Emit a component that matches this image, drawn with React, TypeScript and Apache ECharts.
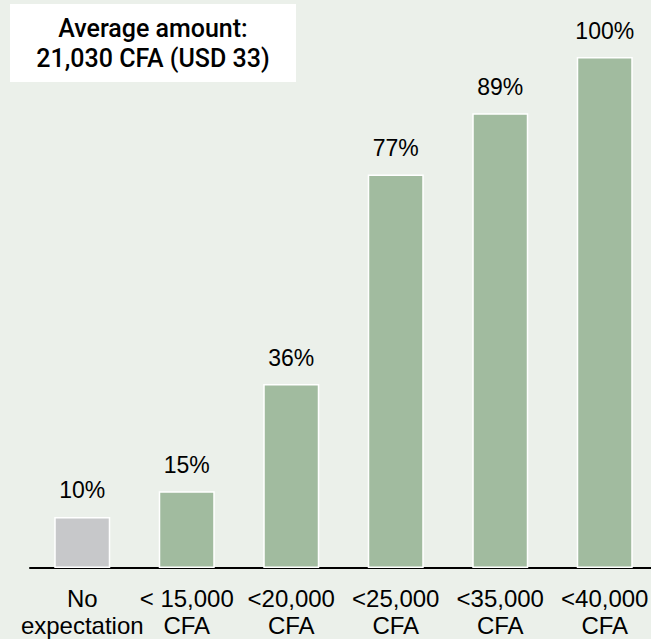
import React, { useEffect, useRef } from "react";
import * as echarts from "echarts";

const categories = [
  "No\nexpectation",
  "< 15,000\nCFA",
  "<20,000\nCFA",
  "<25,000\nCFA",
  "<35,000\nCFA",
  "<40,000\nCFA",
];
const values = [10, 15, 36, 77, 89, 100];
const barColors = ["#C7C8CA", "#A1BB9F", "#A1BB9F", "#A1BB9F", "#A1BB9F", "#A1BB9F"];
const boxLines = ["Average amount:", "21,030 CFA (USD 33)"];

const FONT = "'Liberation Sans', Arial, sans-serif";

export default function App() {
  const ref = useRef<HTMLDivElement>(null);

  useEffect(() => {
    if (!ref.current) return;
    const chart = echarts.init(ref.current, undefined, { renderer: "svg" });
    chart.setOption({
      animation: false,
      backgroundColor: "#EBF0EA",
      // the plot runs slightly past the right edge; the outer frame clips it
      grid: { left: 30, right: 0, top: 57, bottom: 69, containLabel: false },
      xAxis: {
        type: "category",
        data: categories,
        axisLine: { show: true, lineStyle: { color: "#000", width: 2 } },
        axisTick: { show: false },
        axisLabel: {
          color: "#000",
          fontSize: 24,
          lineHeight: 27,
          margin: 17,
          fontFamily: FONT,
          interval: 0,
        },
      },
      yAxis: {
        type: "value",
        min: 0,
        max: 100,
        show: false,
        splitLine: { show: false },
      },
      series: [
        {
          type: "bar",
          barWidth: 56,
          data: values.map((v, i) => ({
            value: v,
            itemStyle: { color: barColors[i], borderColor: "#FFFFFF", borderWidth: 1.5 },
          })),
          label: {
            show: true,
            position: "top",
            distance: 15,
            color: "#000",
            fontSize: 23,
            fontFamily: FONT,
            formatter: (p: any) => `${p.value}%`,
          },
        },
      ],
      graphic: [
        {
          type: "group",
          left: 10,
          top: 4,
          children: [
            {
              type: "rect",
              shape: { x: 0, y: 0, width: 286, height: 78 },
              style: { fill: "#FFFFFF" },
            },
            {
              type: "text",
              x: 143,
              y: 39,
              style: {
                text: boxLines.join("\n"),
                fill: "#000",
                font: `500 25px Roboto, ${FONT}`,
                lineHeight: 30,
                align: "center",
                verticalAlign: "middle",
              },
            },
          ],
        },
      ],
    });
    return () => chart.dispose();
  }, []);

  return (
    <div style={{ width: 651, height: 639, position: "absolute", left: 0, top: 0, overflow: "hidden" }}>
      <div ref={ref} style={{ width: 657, height: 639 }} />
    </div>
  );
}
